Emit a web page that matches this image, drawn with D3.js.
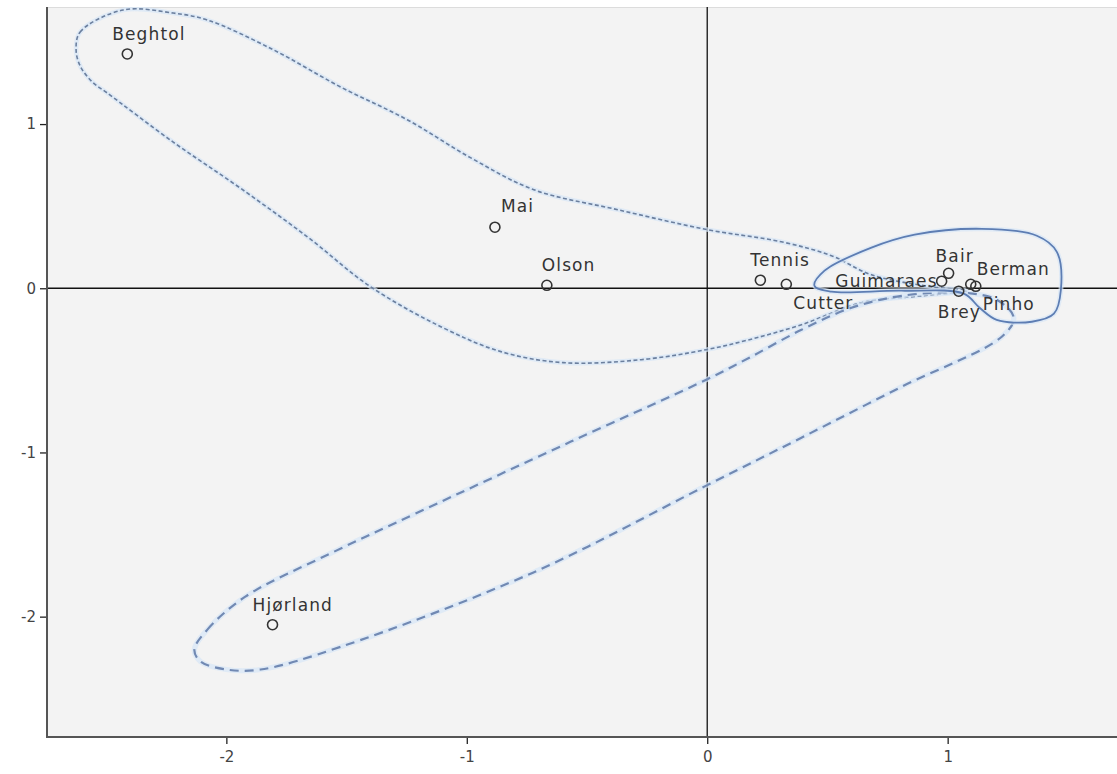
<!DOCTYPE html>
<html>
<head>
<meta charset="utf-8">
<script src="https://cdn.jsdelivr.net/npm/d3@7"></script>
<style>
  html, body { margin: 0; padding: 0; background: #ffffff; }
  svg { display: block; }
</style>
</head>
<body>
<svg id="chart" width="1117" height="774"></svg>
<script>
// ---- data ----
const names = ["Beghtol", "Mai", "Olson", "Tennis", "Cutter", "Guimaraes", "Bair", "Berman", "Pinho", "Brey", "Hjørland"];
const dim1  = [-2.412, -0.883, -0.667, 0.221, 0.329, 0.975, 1.004, 1.096, 1.117, 1.046, -1.808];
const dim2  = [1.427, 0.372, 0.018, 0.049, 0.024, 0.043, 0.091, 0.024, 0.012, -0.018, -2.049];
// label placement relative to point
const labelPos = ["aboveLeft15", "aboveRight", "aboveLeft5", "aboveLeft10", "belowRight", "left", "aboveLeft13", "upRight", "belowRightSmall", "below", "aboveLeft20"];

const xTicks = [-2, -1, 0, 1];
const yTicks = [1, 0, -1, -2];
const xExtent = [-2.746, 1.80];
const yExtent = [-2.733, 1.713];

// hand-drawn group outlines (data units)
const groupUpper = [
  [-2.625, 1.452], [-2.608, 1.561], [-2.429, 1.695], [-2.221, 1.676], [-2.079, 1.634],
  [-1.804, 1.452], [-1.525, 1.226], [-1.246, 1.025], [-0.983, 0.794], [-0.721, 0.600],
  [-0.371, 0.478], [0.004, 0.356], [0.308, 0.283], [0.517, 0.198], [0.683, 0.082],
  [0.933, 0.009], [1.079, -0.015], [0.892, -0.046], [0.642, -0.088], [0.392, -0.222],
  [0.175, -0.313], [-0.004, -0.374], [-0.275, -0.435], [-0.600, -0.453], [-0.858, -0.386],
  [-1.108, -0.234], [-1.400, 0.009], [-1.663, 0.313], [-1.942, 0.610], [-2.221, 0.890],
  [-2.496, 1.190], [-2.558, 1.257], [-2.608, 1.354]
];
const groupLower = [
  [-2.133, -2.201], [-2.079, -2.079], [-1.921, -1.878], [-1.567, -1.615], [-1.204, -1.366],
  [-0.567, -0.934], [-0.004, -0.557], [0.175, -0.423], [0.392, -0.253], [0.600, -0.119],
  [0.808, -0.046], [1.058, -0.027], [1.204, -0.070], [1.275, -0.180], [1.225, -0.295],
  [0.808, -0.600], [0.392, -0.910], [-0.004, -1.202], [-0.725, -1.732], [-1.521, -2.182],
  [-1.858, -2.322], [-2.000, -2.322], [-2.108, -2.273]
];
const groupRight = [
  [0.446, 0.015], [0.488, 0.107], [0.683, 0.247], [0.863, 0.326], [1.142, 0.362],
  [1.371, 0.320], [1.454, 0.222], [1.471, -0.009], [1.442, -0.155], [1.350, -0.204],
  [1.204, -0.192], [1.133, -0.119], [1.067, -0.033], [0.808, -0.015], [0.517, -0.021]
];

// ---- layout ----
const plot = { left: 47, top: 7, right: 1140, bottom: 737 };
const svg = d3.select("#chart");
const x = d3.scaleLinear().domain(xExtent).range([plot.left, plot.right]);
const y = d3.scaleLinear().domain(yExtent).range([plot.bottom, plot.top]);

svg.append("defs").append("clipPath").attr("id", "clip")
  .append("rect").attr("x", plot.left).attr("y", plot.top)
  .attr("width", plot.right - plot.left).attr("height", plot.bottom - plot.top);

svg.append("rect").attr("x", plot.left).attr("y", plot.top)
  .attr("width", plot.right - plot.left).attr("height", plot.bottom - plot.top)
  .attr("fill", "#f3f3f3");
svg.append("line").attr("x1", plot.left).attr("x2", plot.right)
  .attr("y1", plot.top + 0.5).attr("y2", plot.top + 0.5)
  .attr("stroke", "#dcdcdc").attr("stroke-width", 1);

const g = svg.append("g").attr("clip-path", "url(#clip)");

// reference lines
g.append("line").attr("x1", x(0)).attr("x2", x(0)).attr("y1", plot.top).attr("y2", plot.bottom)
  .attr("stroke", "#111").attr("stroke-width", 1.3);
g.append("line").attr("x1", plot.left).attr("x2", plot.right).attr("y1", y(0)).attr("y2", y(0))
  .attr("stroke", "#111").attr("stroke-width", 1.3);

// axes
const xAxis = d3.axisBottom(x).tickValues(xTicks).tickSize(7).tickFormat(d => String(d));
const yAxis = d3.axisLeft(y).tickValues(yTicks).tickSize(7).tickFormat(d => String(d));
const gx = svg.append("g").attr("transform", `translate(0,${plot.bottom})`).call(xAxis);
const gy = svg.append("g").attr("transform", `translate(${plot.left},0)`).call(yAxis);
[gx, gy].forEach(a => {
  a.select(".domain").remove();
  a.selectAll(".tick line").attr("stroke", "#222").attr("stroke-width", 1.3);
  a.selectAll(".tick text").attr("fill", "#444").attr("font-family", "DejaVu Sans, sans-serif")
    .attr("font-size", 15);
});
gx.selectAll(".tick text").attr("dy", "1.0em");
gy.selectAll(".tick text").attr("dx", "-1px");

// frame lines
svg.append("line").attr("x1", plot.left).attr("x2", plot.left).attr("y1", plot.top).attr("y2", plot.bottom + 1)
  .attr("stroke", "#555").attr("stroke-width", 2);
svg.append("line").attr("x1", plot.left - 1).attr("x2", plot.right).attr("y1", plot.bottom).attr("y2", plot.bottom)
  .attr("stroke", "#555").attr("stroke-width", 2);

// outlines
const outline = d3.line().x(d => x(d[0])).y(d => y(d[1])).curve(d3.curveCatmullRomClosed.alpha(0.5));
function drawOutline(data, dash, width, color) {
  g.append("path").attr("d", outline(data)).attr("fill", "none")
    .attr("stroke", "#d6e6f7").attr("stroke-width", width + 3).attr("stroke-opacity", 0.7);
  g.append("path").attr("d", outline(data)).attr("fill", "none")
    .attr("stroke", color).attr("stroke-width", width)
    .attr("stroke-dasharray", dash);
}
drawOutline(groupUpper, "4,2.5", 1.6, "#6b7f9e");
drawOutline(groupLower, "9,6", 2.2, "#7189b3");
drawOutline(groupRight, null, 1.8, "#5d7db3");

// points
const pts = names.map((n, i) => ({ name: n, x: dim1[i], y: dim2[i], pos: labelPos[i] }));
g.selectAll("circle.pt").data(pts).enter().append("circle").attr("class", "pt")
  .attr("cx", d => x(d.x)).attr("cy", d => y(d.y)).attr("r", 5)
  .attr("fill", "none").attr("stroke", "#333").attr("stroke-width", 1.6);

const offsets = {
  aboveLeft15:     { dx: -15, dy: -14, anchor: "start" },
  aboveLeft20:     { dx: -20, dy: -14, anchor: "start" },
  aboveRight:      { dx: 6,   dy: -15, anchor: "start" },
  aboveLeft5:      { dx: -5,  dy: -14, anchor: "start" },
  aboveLeft10:     { dx: -10, dy: -14, anchor: "start" },
  belowRight:      { dx: 7,   dy: 25,  anchor: "start" },
  left:            { dx: -4,  dy: 6,   anchor: "end" },
  aboveLeft13:     { dx: -13, dy: -11, anchor: "start" },
  upRight:         { dx: 6,   dy: -9,  anchor: "start" },
  belowRightSmall: { dx: 7,   dy: 24,  anchor: "start" },
  below:           { dx: -21, dy: 27,  anchor: "start" }
};
g.selectAll("text.lbl").data(pts).enter().append("text").attr("class", "lbl")
  .attr("x", d => x(d.x) + offsets[d.pos].dx)
  .attr("y", d => y(d.y) + offsets[d.pos].dy)
  .attr("text-anchor", d => offsets[d.pos].anchor)
  .attr("font-family", "DejaVu Sans, sans-serif").attr("font-size", 17)
  .attr("letter-spacing", "1.1px")
  .attr("fill", "#333")
  .text(d => d.name);
</script>
</body>
</html>
